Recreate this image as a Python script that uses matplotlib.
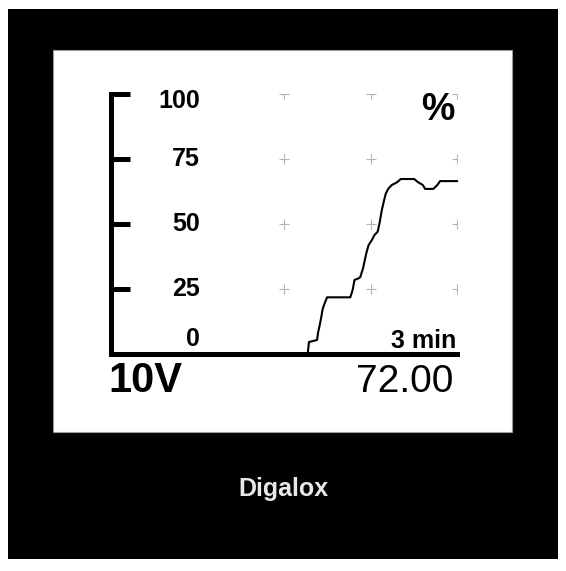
import matplotlib.pyplot as plt
import matplotlib.patches as patches
from matplotlib.transforms import blended_transform_factory

plt.rcParams['font.family'] = ['Liberation Sans', 'DejaVu Sans']

tiempo = [0, 102.3, 103.0, 107.2, 107.7, 108.6, 109.4, 110.1, 111.2, 112.4,
          124.5, 125.7, 126.7, 128.8, 129.7, 131.1, 132.8, 134.0, 135.7,
          137.1, 138.7, 139.7, 140.9, 142.1, 143.0, 144.4, 146.1, 148.7,
          150.8, 157.7, 159.9, 162.2, 163.4, 167.7, 169.8, 171.2, 180]
valor = [0, 0, 4.6, 5.4, 8.1, 11.2, 14.2, 17.3, 19.6, 21.8,
         21.8, 24.6, 28.5, 29.1, 29.6, 32.9, 38.7, 41.9, 43.8,
         45.8, 47.0, 50.3, 55.4, 59.2, 61.8, 63.7, 65.0, 66.0,
         67.3, 67.3, 66.0, 65.0, 63.5, 63.5, 65.0, 66.5, 66.5]

y_ticks = [25, 50, 75, 100]
y_tick_labels = ['100', '75', '50', '25', '0']
y_label_pos = [97.3, 75, 50, 25, 5.8]   # posicion vertical de cada etiqueta
grid_x = [90, 135, 180]
grid_y = [25, 50, 75, 100]

W, H = 566, 571
fig = plt.figure(figsize=(W / 100, H / 100), dpi=100)
fig.set_facecolor('white')


def px(x0, y0, x1, y1):
    # rectangulo en pixeles -> fraccion de figura
    return (x0 / W, 1 - y1 / H, (x1 - x0) / W, (y1 - y0) / H)


# Marco negro y panel blanco (debajo de los ejes)
r = px(8, 9, 558, 559)
fig.patches.append(patches.Rectangle(r[:2], r[2], r[3], transform=fig.transFigure,
                                     facecolor='black', edgecolor='none', zorder=-2))
r = px(53, 50, 512, 432)
fig.patches.append(patches.Rectangle(r[:2], r[2], r[3], transform=fig.transFigure,
                                     facecolor='white', edgecolor='#9a9a9a',
                                     linewidth=0.8, zorder=-1))

ax = fig.add_axes([111 / W, 1 - 354 / H, 346 / W, 260 / H])
ax.set_facecolor('none')
ax.set_xlim(0, 180)
ax.set_ylim(0, 100)

for s in ['top', 'right']:
    ax.spines[s].set_visible(False)
for s in ['left', 'bottom']:
    ax.spines[s].set_linewidth(3.6)
    ax.spines[s].set_color('black')

ax.set_xticks([])
ax.set_yticks(y_ticks)
ax.tick_params(axis='y', direction='in', length=13.5, width=3.6, labelleft=False)

# Cruces grises de la cuadricula
for gx in grid_x:
    for gy in grid_y:
        ax.plot(gx, gy, marker='+', markersize=7, markeredgewidth=0.8,
                color='#b4b4b4', clip_on=True, zorder=1)

ax.plot(tiempo, valor, color='black', linewidth=1.5, zorder=3, clip_on=False)

trans = blended_transform_factory(ax.transAxes, ax.transData)
for lab, yp in zip(y_tick_labels, y_label_pos):
    ax.text(0.257, yp, lab, transform=trans, ha='right', va='center',
            fontsize=18, fontweight='bold', color='black')

fig.text(455 / W, 1 - 120 / H, '%', ha='right', va='baseline',
         fontsize=27, fontweight='bold', color='black')
fig.text(456 / W, 1 - 348 / H, '3 min', ha='right', va='baseline',
         fontsize=18, fontweight='bold', color='black')
fig.text(108 / W, 1 - 392 / H, '10V', ha='left', va='baseline',
         fontsize=30, fontweight='bold', color='black')
fig.text(453 / W, 1 - 392 / H, '72.00', ha='right', va='baseline',
         fontsize=28, color='black')
fig.text(283 / W, 1 - 496 / H, 'Digalox', ha='center', va='baseline',
         fontsize=18, fontweight='bold', color='#e8e8e8')

plt.savefig('out.png', dpi=100)
